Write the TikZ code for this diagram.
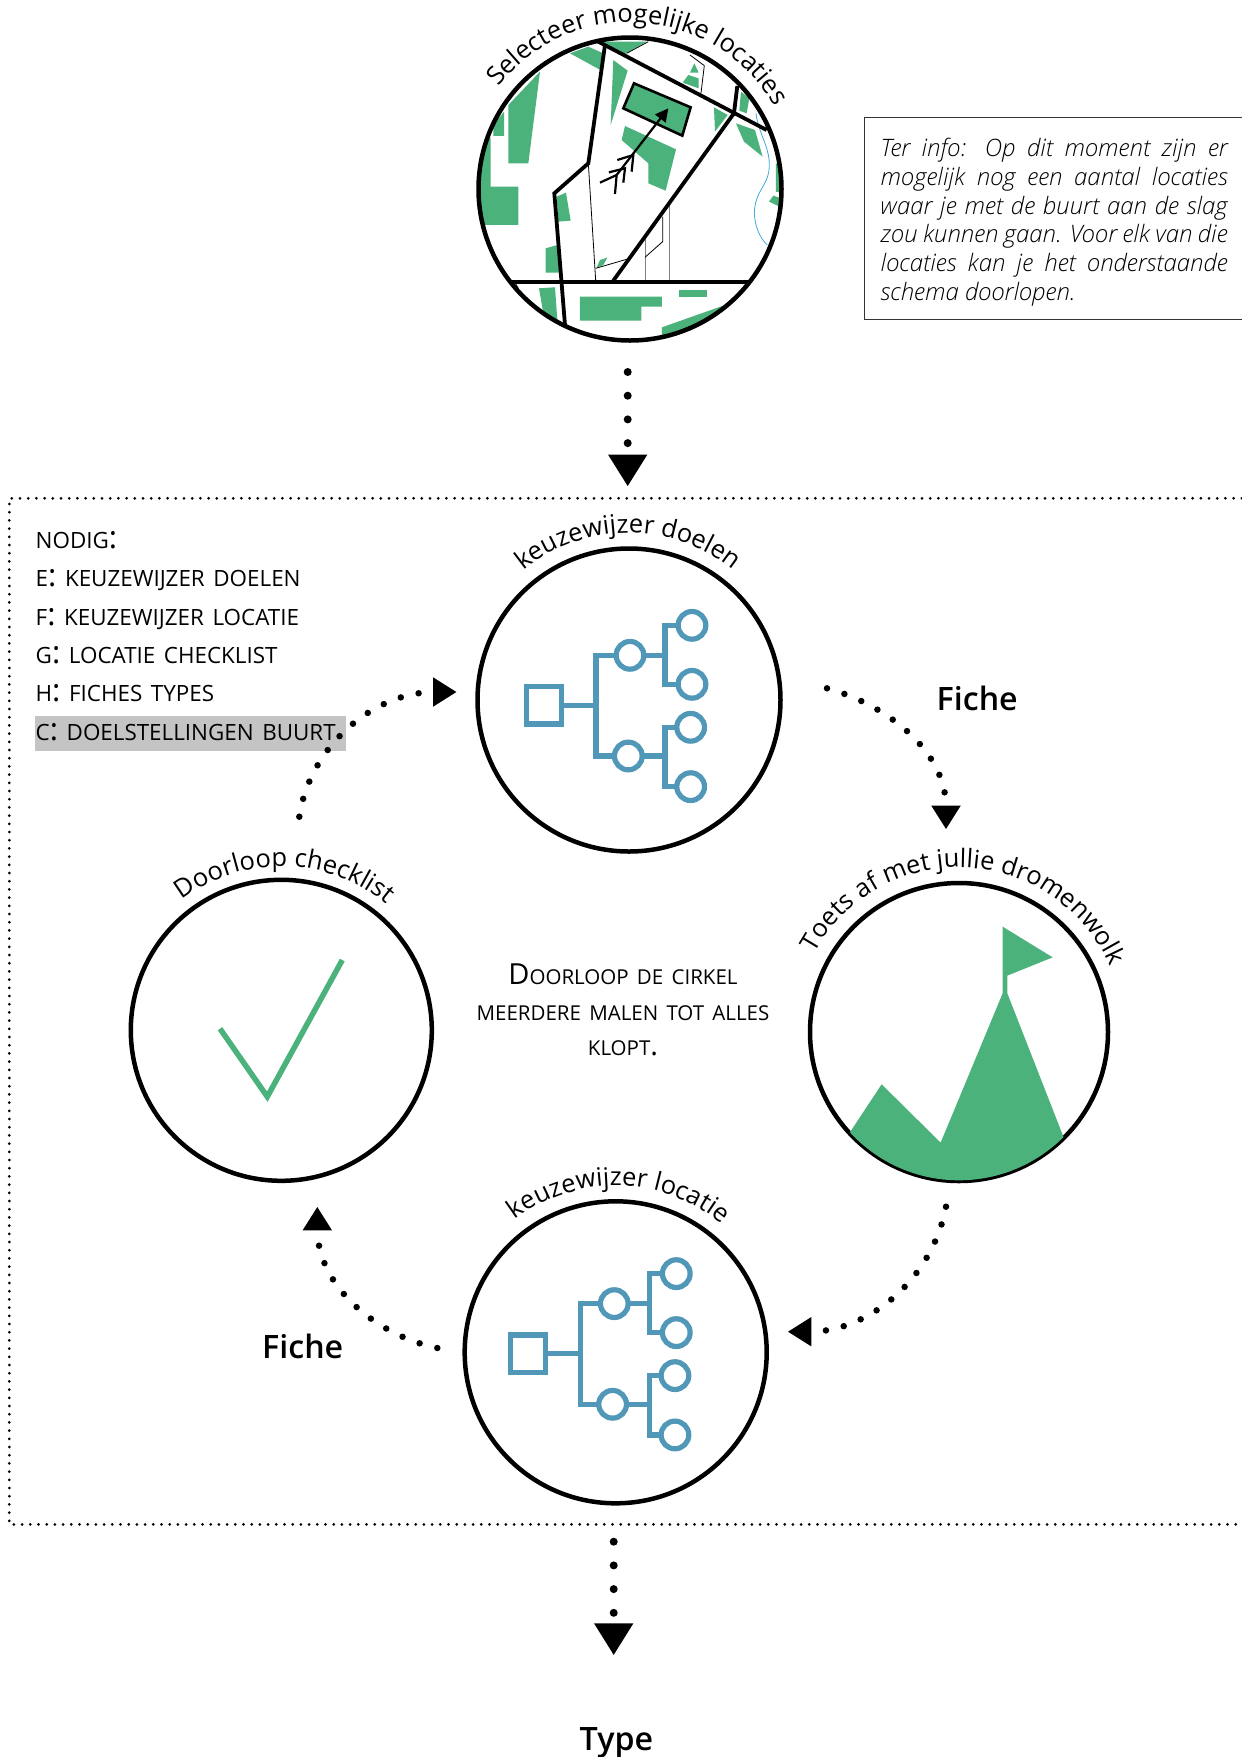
\documentclass[tikz,border=0pt]{standalone}
\usepackage{fontspec}
\setmainfont{Open Sans}
\IfFontExistsTF{Open Sans Semibold}{\newfontfamily\halfvet{Open Sans Semibold}}{\newfontfamily\halfvet{Open Sans}[FakeBold=1]}
\IfFontExistsTF{Open Sans Light}{\newfontfamily\dun{Open Sans Light}[ItalicFont=* Italic]}{\newfontfamily\dun{Open Sans}}
\usetikzlibrary{arrows.meta,decorations.text,calc}
\definecolor{groen}{HTML}{4AB27A}
\definecolor{blauw}{HTML}{5197B8}
\definecolor{rivier}{HTML}{3FA9DC}
\definecolor{markering}{HTML}{C4C4C4}
\newcommand{\dbp}{{\fontsize{31}{31}\selectfont:}}
\newcommand{\groot}[1]{{\fontsize{29}{29}\selectfont #1}}
\newcommand{\lijstfont}{\fontsize{22.4}{22.4}\selectfont\setlength{\spaceskip}{8.6pt}}
\newcommand{\middenfont}{\fontsize{20.5}{35.5}\selectfont\setlength{\spaceskip}{8.3pt}}
% tekst over een boog boven een cirkel: midden, hoek, straal, grootte, tekst
\newcommand{\boogtekst}[5]{%
  \path[decorate, decoration={text along path, text align=center,
    text={|\fontsize{#4}{#4}\selectfont|#5}}]
    ($(#1)+(#2+75:#3)$) arc[start angle=#2+75, end angle=#2-75, radius=#3];
}
\begin{document}
\begin{tikzpicture}[
  x=1pt, y=1pt,
  ronde/.style={draw, circle, line width=4.5pt, inner sep=0pt, outer sep=0pt},
  stippel/.style={line width=6.5pt, line cap=round, dash pattern=on 0pt off 18.3pt,
    -{Triangle[width=27.7pt,length=23.7pt]}},
  stippelgroot/.style={line width=8pt, line cap=round, dash pattern=on 0pt off 23.7pt,
    -{Triangle[width=37pt,length=32pt]}},
  kader/.style={line width=3pt, line cap=round, dash pattern=on 0pt off 8.2pt},
  zoomvlak/.style={x=0.3333pt, y=-0.3333pt},
  weg/.style={line width=3.8pt, line join=miter},
  fijn/.style={line width=0.8pt},
  lijst/.style={anchor=base west, inner sep=0pt, outer sep=0pt, font=\lijstfont},
  fiche/.style={anchor=base west, inner sep=0pt, font=\halfvet\fontsize{32.2}{32.2}\selectfont},
  boomrondje/.style={draw=blauw, circle, line width=5.2pt, inner sep=0pt, outer sep=0pt, minimum size=27.7pt},
  boomvlak/.style={draw=blauw, line width=5.2pt, inner sep=0pt, outer sep=0pt, minimum width=35pt, minimum height=37.3pt},
  boomlijn/.style={draw=blauw, line width=5.2pt},
  pics/boom/.style={code={
    \begin{scope}[zoomvlak]
    \node[boomvlak] (-wortel) at (252,616) {};
    \node[boomrondje] (-t1) at (510,466) {};
    \node[boomrondje] (-t2) at (505,768) {};
    \node[boomrondje] (-b1) at (696,376) {};
    \node[boomrondje] (-b2) at (696,553) {};
    \node[boomrondje] (-b3) at (692,682) {};
    \node[boomrondje] (-b4) at (692,860) {};
    \draw[boomlijn] (-wortel.east) -- (408,616);
    \draw[boomlijn] (-t1.west) -- (408,466) |- (-t2.west);
    \draw[boomlijn] (-t1.east) -- (615,466);
    \draw[boomlijn] (-t2.east) -- (615,768);
    \draw[boomlijn] (-b1.west) -- (615,376) |- (-b2.west);
    \draw[boomlijn] (-b3.west) -- (615,682) |- (-b4.west);
    \end{scope}
  }}
]
\useasboundingbox (0,0) rectangle (1242,-1757);

\fill[markering] (35,-716) rectangle (346,-750.7);
\draw[kader] (1250,-498.3) -- (9.3,-498.3) -- (9.3,-1524.4) -- (1250,-1524.4);

% de kaart
\begin{scope}[shift={(460,0)}, zoomvlak]
  \clip (510,565) circle[radius=452];
  \fill[groen] (330,160) -- (385,140) -- (430,160) -- (425,212) -- cycle;
  \fill[groen] (430,125) -- (560,125) -- (495,162) -- (445,140) -- cycle;
  \fill[groen] (145,315) -- (240,215) -- (205,490) -- (145,490) -- cycle;
  \fill[groen] (100,408) -- (132,408) -- (132,335) -- (100,375) -- cycle;
  \fill[groen] (30,400) -- (92,415) -- (92,560) -- (175,560) -- (175,675) -- (30,675) -- cycle;
  \fill[groen] (460,180) -- (503,212) -- (452,375) -- cycle;
  \fill[groen] (495,378) -- (648,448) -- (617,572) -- (565,550) -- (565,490) -- (485,420) -- cycle;
  \fill[groen] (290,590) -- (318,578) -- (332,662) -- (295,665) -- cycle;
  \fill[groen] (257,745) -- (292,735) -- (300,818) -- (257,818) -- cycle;
  \fill[groen] (410,803) -- (420,780) -- (442,773) -- (430,795) -- cycle;
  \fill[groen] (237,865) -- (285,862) -- (292,960) -- (250,940) -- cycle;
  \fill[groen] (360,890) -- (606,890) -- (606,920) -- (544,920) -- (544,962) -- (360,962) -- cycle;
  \fill[groen] (657,870) -- (741,870) -- (741,890) -- (657,890) -- cycle;
  \fill[groen] (606,982) -- (790,917) -- (700,1020) -- (606,1020) -- cycle;
  \fill[groen] (690,218) -- (716,218) -- (703,190) -- cycle;
  \fill[groen] (668,248) -- (685,225) -- (716,235) -- (716,265) -- cycle;
  \fill[groen] (762,322) -- (803,345) -- (765,395) -- cycle;
  \fill[groen] (843,275) -- (868,295) -- (860,340) -- (838,332) -- cycle;
  \fill[groen] (828,370) -- (885,390) -- (908,470) -- (852,425) -- cycle;
  \fill[groen] (948,490) -- (970,500) -- (970,580) -- (948,575) -- cycle;
  \fill[groen] (940,587) -- (970,597) -- (970,625) -- (927,605) -- cycle;
  \draw[fijn] (385,490) -- (407,840);
  \draw[fijn] (407,805) -- (500,778);
  \draw[fijn] (500,160) -- (565,125);
  \draw[fijn] (690,165) -- (733,197) -- (723,280);
  \draw[fijn, gray] (555,715) -- (555,840);
  \draw[fijn, gray] (628,615) -- (628,840);
  \draw[fijn] (608,650) -- (608,725) -- (555,772);
  \draw[fijn] (165,848) -- (175,865);
  \draw[fijn, rivier] (888,340) .. controls (895,400) and (930,440) .. (928,500)
    .. controls (925,560) and (885,570) .. (883,640)
    .. controls (885,680) and (900,715) .. (922,735);
  \draw[line width=2.6pt, fill=groen] (522,250) -- (692,322) -- (667,407) -- (490,325) -- cycle;
  \draw[weg] (415,125) -- (920,390);
  \draw[weg] (435,135) -- (385,490) -- (283,580) -- (315,975);
  \draw[weg] (832,258) -- (822,340) -- (460,842);
  \draw[weg] (150,845) -- (865,845);
  \draw[line width=2.2pt, -{Triangle[width=13pt,length=13pt]}] (470,525) -- (625,325);
  \draw[line width=2.2pt] (420,548) -- (470,525) -- (465,582);
  \draw[line width=2.2pt] (447,517) -- (495,505) -- (490,548);
  \draw[line width=2.2pt] (472,480) -- (520,465) -- (515,515);
\end{scope}

% de vijf cirkels
\node[ronde, minimum size=303pt] (kaart) at (630,-189) {};
\node[ronde, minimum size=303pt] (doelen) at (629,-700) {};
\node[ronde, minimum size=298pt] (toets) at (959,-1032) {};
\node[ronde, minimum size=302pt] (locatie) at (615.7,-1352.3) {};
\node[ronde, minimum size=301pt] (checklist) at (281.3,-1030.3) {};

\pic (boomdoel) at (460,-500) {boom};
\pic (boomlocatie) at (444.3,-1148.3) {boom};

% vlag op de berg
\begin{scope}[shift={(780,-820)}, zoomvlak]
  \clip (537,637) circle[radius=444];
  \fill[groen] (145,1035) -- (305,793) -- (482,968) -- (668,520) -- (668,320) -- (818,412)
    -- (682,467) -- (682,520) -- (905,1090) -- (145,1090) -- cycle;
\end{scope}

% vinkje
\draw[groen, line width=5.5pt] (220,-1028.7) -- (267.3,-1096.7) -- (342.3,-960);

\boogtekst{kaart}{86}{166.5}{25.5}{Selecteer mogelijke locaties}
\boogtekst{doelen}{90.3}{167}{25.5}{keuzewijzer doelen}
\boogtekst{toets}{87.4}{164.5}{25.5}{Toets af met jullie dromenwolk}
\boogtekst{checklist}{88.7}{164}{25.5}{Doorloop checklist}
\boogtekst{locatie}{88.8}{166.5}{25.5}{keuzewijzer locatie}

\node[draw=black!80, line width=1pt, anchor=north west, inner xsep=16.4pt, inner ysep=0pt,
  text width=347pt, text depth=141.5pt, minimum height=201.3pt, align=justify, outer sep=0pt,
  font=\dun\itshape\fontsize{24}{28.7}\selectfont] (info) at (864.3,-117.7)
  {Ter info: Op dit moment zijn er\linebreak mogelijk nog een aantal locaties\linebreak
   waar je met de buurt aan de slag\linebreak zou kunnen gaan. Voor elk van die\linebreak
   locaties kan je het onderstaande\linebreak schema doorlopen.};

\foreach \regel [count=\i from 0] in {NODIG\dbp, E\dbp{} KEUZEWIJZER DOELEN, F\dbp{} KEUZEWIJZER LOCATIE,
    G\dbp{} LOCATIE CHECKLIST, H\dbp{} FICHES TYPES, C\dbp{} DOELSTELLINGEN BUURT}
  \node[lijst] (nodig\i) at (35.7,{-548.3-38.4*\i}) {\regel};

\node[inner sep=0pt, align=center, font=\middenfont] (midden) at (623,-1010.2)
  {\groot{D}OORLOOP DE CIRKEL\\ MEERDERE MALEN TOT ALLES\\ KLOPT\groot{.}};

\node[fiche] (fiche1) at (936.5,-710) {Fiche};
\node[fiche] (fiche2) at (262,-1358) {Fiche};
\node[fiche] (type) at (579.5,-1750) {Type};

\coordinate (kaartUit) at (627.7,-372);
\coordinate (doelenBoven) at (627.7,-486.5);
\coordinate (doelenUit) at (827,-688.3);
\coordinate (toetsIn) at (946,-829.3);
\coordinate (toetsUit) at (946,-1206.7);
\coordinate (locatieIn) at (787.7,-1331.7);
\coordinate (locatieUit) at (437.3,-1348);
\coordinate (checkIn) at (317.3,-1206.7);
\coordinate (checkUit) at (299.3,-816.7);
\coordinate (doelenIn) at (456.7,-692);
\coordinate (uitgang) at (613.7,-1541.7);
\coordinate (typeIn) at (613.7,-1655.3);

\draw[stippelgroot] (kaartUit) -- (doelenBoven);
\draw[stippel] (doelenUit) .. controls (885,-704) and (946,-750) .. (toetsIn);
\draw[stippel] (toetsUit) .. controls (932,-1280) and (868,-1331.7) .. (locatieIn);
\draw[stippel] (locatieUit) .. controls (375,-1335) and (317.3,-1285) .. (checkIn);
\draw[stippel] (checkUit) .. controls (310,-745) and (375,-692) .. (doelenIn);
\draw[stippelgroot] (uitgang) -- (typeIn);
\end{tikzpicture}
\end{document}
